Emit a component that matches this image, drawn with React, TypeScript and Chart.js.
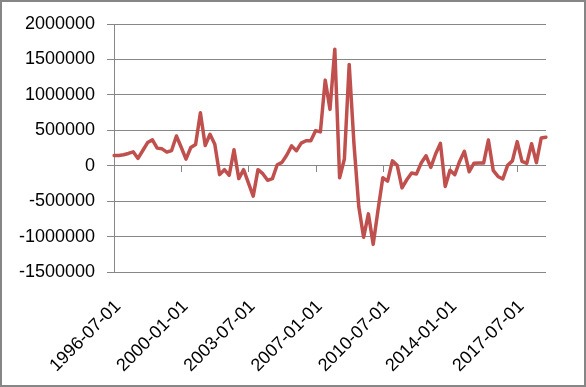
import React, { useEffect, useRef } from "react";
import { Chart, registerables } from "chart.js";

Chart.register(...registerables);

const categories: string[] = [
  "1996-07-01", "1996-10-01", "1997-01-01", "1997-04-01", "1997-07-01", "1997-10-01",
  "1998-01-01", "1998-04-01", "1998-07-01", "1998-10-01", "1999-01-01", "1999-04-01",
  "1999-07-01", "1999-10-01", "2000-01-01", "2000-04-01", "2000-07-01", "2000-10-01",
  "2001-01-01", "2001-04-01", "2001-07-01", "2001-10-01", "2002-01-01", "2002-04-01",
  "2002-07-01", "2002-10-01", "2003-01-01", "2003-04-01", "2003-07-01", "2003-10-01",
  "2004-01-01", "2004-04-01", "2004-07-01", "2004-10-01", "2005-01-01", "2005-04-01",
  "2005-07-01", "2005-10-01", "2006-01-01", "2006-04-01", "2006-07-01", "2006-10-01",
  "2007-01-01", "2007-04-01", "2007-07-01", "2007-10-01", "2008-01-01", "2008-04-01",
  "2008-07-01", "2008-10-01", "2009-01-01", "2009-04-01", "2009-07-01", "2009-10-01",
  "2010-01-01", "2010-04-01", "2010-07-01", "2010-10-01", "2011-01-01", "2011-04-01",
  "2011-07-01", "2011-10-01", "2012-01-01", "2012-04-01", "2012-07-01", "2012-10-01",
  "2013-01-01", "2013-04-01", "2013-07-01", "2013-10-01", "2014-01-01", "2014-04-01",
  "2014-07-01", "2014-10-01", "2015-01-01", "2015-04-01", "2015-07-01", "2015-10-01",
  "2016-01-01", "2016-04-01", "2016-07-01", "2016-10-01", "2017-01-01", "2017-04-01",
  "2017-07-01", "2017-10-01", "2018-01-01", "2018-04-01", "2018-07-01", "2018-10-01",
  "2019-01-01",
];

const values: number[] = [
  145000, 145000, 154000, 173000, 196000, 103000, 215000, 327000, 365000, 248000,
  238000, 192000, 215000, 420000, 260000, 93000, 257000, 299000, 748000, 285000,
  444000, 304000, -126000, -56000, -135000, 224000, -182000, -56000, -243000, -430000,
  -56000, -112000, -206000, -182000, 14000, 47000, 151000, 280000, 212000, 318000,
  352000, 352000, 495000, 478000, 1208000, 795000, 1645000, -170000, 95000, 1430000,
  300000, -580000, -1010000, -680000, -1110000, -630000, -170000, -217000, 68000, 5000,
  -313000, -198000, -104000, -118000, 38000, 141000, -24000, 165000, 315000, -292000,
  -65000, -127000, 61000, 203000, -85000, 35000, 38000, 38000, 362000, -65000,
  -151000, -188000, 5000, 68000, 340000, 61000, 33000, 311000, 43000, 391000,
  403000,
];

const Y_MIN = -1500000;
const Y_MAX = 2000000;
const Y_STEP = 500000;
const LABEL_EVERY = 14;

const LINE_COLOR = "#C0504D";
const GRID_COLOR = "#878787";
const FONT = { family: "'Liberation Sans', Arial, sans-serif", size: 18 };

const decor = {
  id: "excelDecor",
  beforeDatasetsDraw(chart: any) {
    const { ctx, scales } = chart;
    const x = scales.x;
    const y = scales.y;
    const y0 = Math.round(y.getPixelForValue(0));
    ctx.save();
    ctx.strokeStyle = GRID_COLOR;
    ctx.lineWidth = 1;
    for (let i = 0; i < categories.length; i += LABEL_EVERY) {
      const px = Math.round(x.getPixelForValue(i)) + 0.5;
      ctx.beginPath();
      ctx.moveTo(px, y0);
      ctx.lineTo(px, y0 + 6);
      ctx.stroke();
    }
    ctx.restore();
  },
  afterDraw(chart: any) {
    const { ctx, width, height } = chart;
    ctx.save();
    ctx.strokeStyle = "#868686";
    ctx.lineWidth = 2;
    ctx.strokeRect(1, 1, width - 2, height - 2);
    ctx.restore();
  },
};

export default function App() {
  const ref = useRef<HTMLCanvasElement | null>(null);

  useEffect(() => {
    document.body.style.margin = "0";
    const canvas = ref.current;
    if (!canvas) return;
    const chart = new Chart(canvas, {
      type: "line",
      data: {
        labels: categories,
        datasets: [
          {
            data: values,
            borderColor: LINE_COLOR,
            backgroundColor: LINE_COLOR,
            borderWidth: 3.5,
            pointRadius: 0,
            pointHoverRadius: 0,
            tension: 0,
            fill: false,
            borderJoinStyle: "round",
            borderCapStyle: "round",
          },
        ],
      },
      options: {
        animation: false,
        responsive: false,
        maintainAspectRatio: false,
        devicePixelRatio: 1,
        layout: { padding: { top: 24, right: 40, left: 0, bottom: 0 } },
        plugins: {
          legend: { display: false },
          tooltip: { enabled: false },
          title: { display: false },
        },
        scales: {
          x: {
            type: "category",
            offset: false,
            grid: { display: false, drawTicks: false },
            border: { display: false },
            ticks: {
              autoSkip: false,
              maxRotation: 45,
              minRotation: 45,
              padding: 24,
              labelOffset: 4,
              color: "#000000",
              font: FONT,
              callback: (_v: any, i: number) =>
                i % LABEL_EVERY === 0 ? categories[i] : "",
            },
            afterFit: (scale: any) => {
              scale.height = 115;
            },
          },
          y: {
            min: Y_MIN,
            max: Y_MAX,
            grid: {
              color: GRID_COLOR,
              lineWidth: 1,
              drawTicks: true,
              tickLength: 7,
              tickColor: GRID_COLOR,
            },
            border: { display: true, color: GRID_COLOR, width: 1 },
            ticks: {
              stepSize: Y_STEP,
              padding: 12,
              color: "#000000",
              font: FONT,
              callback: (v: any) => String(v),
            },
            afterFit: (scale: any) => {
              scale.width = 114;
            },
          },
        },
      },
      plugins: [decor],
    });
    return () => chart.destroy();
  }, []);

  return (
    <div style={{ position: "absolute", left: 0, top: 0, width: 586, height: 387 }}>
      <canvas ref={ref} width={586} height={387} style={{ display: "block", width: 586, height: 387 }} />
    </div>
  );
}
